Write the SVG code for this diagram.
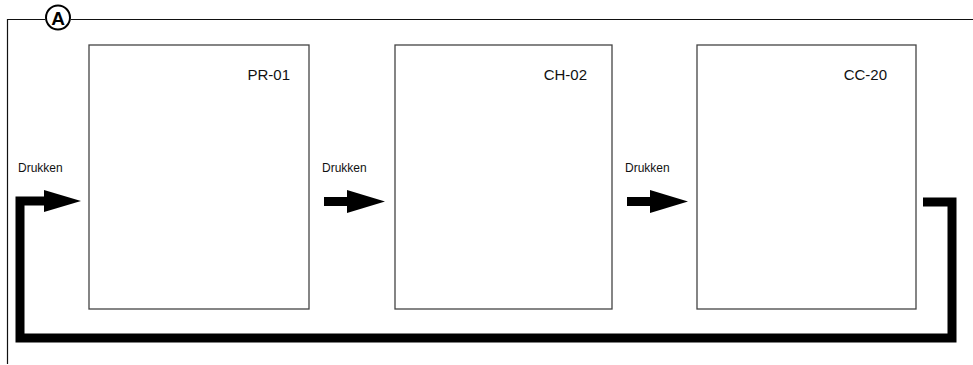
<svg xmlns="http://www.w3.org/2000/svg" width="973" height="365" viewBox="0 0 973 365">
<style>
.frame{fill:none;stroke:#111;stroke-width:1.2}
.box{fill:#fff;stroke:#444;stroke-width:1.3}
.lbl{font-family:"Liberation Sans",Arial,sans-serif;font-size:15px;fill:#111}
.dk{font-family:"Liberation Sans",Arial,sans-serif;font-size:12px;fill:#111}
.thick{fill:none;stroke:#000;stroke-width:9;stroke-linejoin:miter}
.head{fill:#000}
</style>
<g id="frame">
<path class="frame" d="M7.5,364 V19.5 H45 M71,19.5 H973"/>
<circle cx="58" cy="17.5" r="12" fill="none" stroke="#000" stroke-width="2"/>
<text x="58" y="24.5" text-anchor="middle" font-family="Liberation Sans,Arial,sans-serif" font-size="19" font-weight="bold" fill="#000">A</text>
</g>
<g id="PR-01">
<rect class="box" x="89" y="45" width="220" height="264"/>
<text class="lbl" x="290" y="80" text-anchor="end">PR-01</text>
</g>
<g id="CH-02">
<rect class="box" x="395" y="45" width="217" height="264"/>
<text class="lbl" x="587" y="80" text-anchor="end">CH-02</text>
</g>
<g id="CC-20">
<rect class="box" x="697" y="45" width="219" height="264"/>
<text class="lbl" x="887" y="80" text-anchor="end">CC-20</text>
</g>
<g id="connectors">
<path class="thick" d="M923,202 H952 V338 H20 V201 H46"/>
<polygon class="head" points="44,190 81,201 44,212"/>
<text class="dk" x="18" y="172">Drukken</text>
<path class="thick" d="M324,201.5 H349"/>
<polygon class="head" points="347,190 385,201.5 347,213"/>
<text class="dk" x="322" y="172">Drukken</text>
<path class="thick" d="M627,201.5 H652"/>
<polygon class="head" points="650,190 688,201.5 650,213"/>
<text class="dk" x="625" y="172">Drukken</text>
</g>
</svg>
